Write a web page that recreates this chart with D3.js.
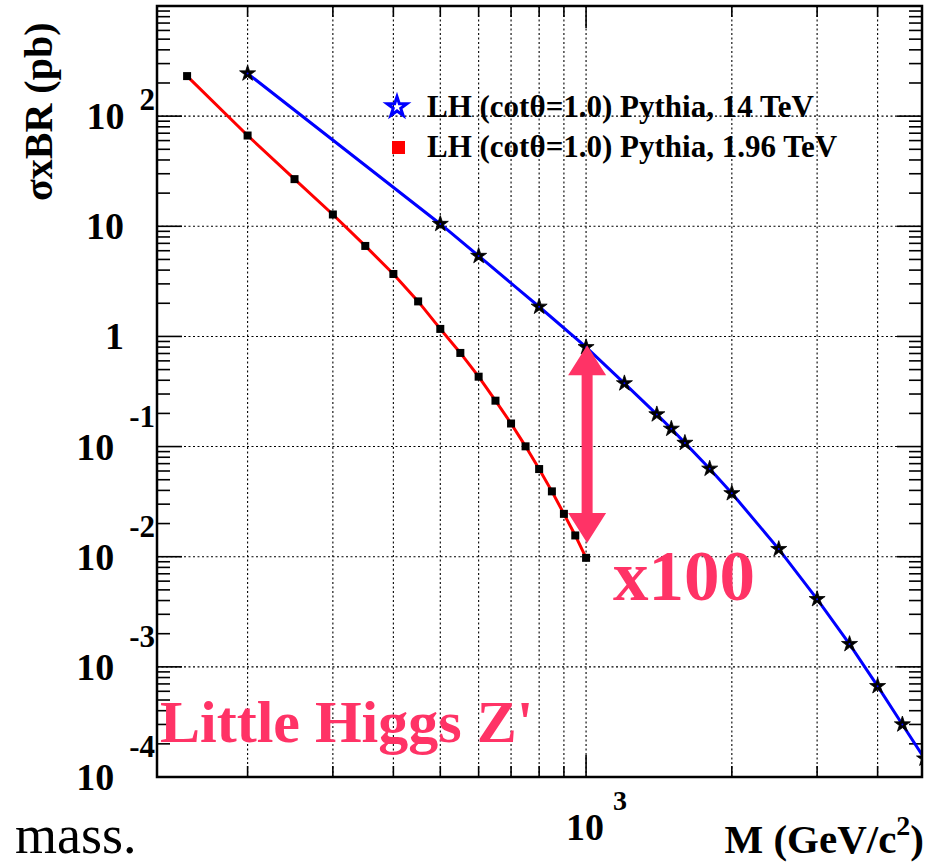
<!DOCTYPE html>
<html>
<head>
<meta charset="utf-8">
<script src="https://cdn.jsdelivr.net/npm/d3@7/dist/d3.min.js"></script>
<style>
  html, body { margin: 0; padding: 0; background: #fff; }
  svg { display: block; }
  svg text { font-family: "Liberation Serif", Tinos, "Times New Roman", Times, "DejaVu Serif", serif; }
</style>
</head>
<body>
<svg id="chart" width="927" height="865" font-family="Liberation Serif, Tinos, Times New Roman, DejaVu Serif, serif"></svg>
<script>
// Z' mass points (GeV/c^2) and sigma x BR (pb), Tevatron 1.96 TeV
const massTev = [150, 200, 250, 300, 350, 400, 450, 500, 550, 600, 650, 700, 750, 800, 850, 900, 950, 1000];
const xsecTev = [231, 66.7, 26.8, 12.8, 6.63, 3.69, 2.08, 1.17, 0.708, 0.431, 0.261, 0.162, 0.1005, 0.0625, 0.0392, 0.0245, 0.0156, 0.00977];

// LHC 14 TeV
const massLhc = [200, 500, 600, 800, 1000, 1200, 1400, 1500, 1600, 1800, 2000, 2500, 3000, 3500, 4000, 4500, 5000];
const xsecLhc = [244, 10.5, 5.38, 1.86, 0.798, 0.375, 0.196, 0.145, 0.108, 0.0629, 0.0377, 0.01173, 0.00412, 0.00161, 0.000668, 0.000300, 0.000147];

// axis settings
const xDomain = [130, 4940];
const yDomain = [1e-4, 1e3];
const xGridValues = [200, 300, 400, 500, 600, 700, 800, 900, 1000, 2000, 3000, 4000];
const yDecades = [-4, -3, -2, -1, 0, 1, 2, 3];

const legendLabels = ["LH (cot\u03b8=1.0) Pythia, 14 TeV", "LH (cot\u03b8=1.0) Pythia, 1.96 TeV"];
const ratioLabel = "x100";
const modelLabel = "Little Higgs Z'";
const arrowEnds = [0.83, 0.0133]; // at M = 1000
const arrowMass = 1005;

const pink = "#ff3366";
const frame = { left: 157, right: 922, top: 6, bottom: 777 };

const svg = d3.select("#chart");
const x = d3.scaleLog().domain(xDomain).range([frame.left, frame.right]);
const y = d3.scaleLog().domain(yDomain).range([frame.bottom, frame.top]);

// grid
const grid = svg.append("g").attr("stroke", "#000").attr("stroke-width", 1.1).attr("stroke-dasharray", "2,2.5");
xGridValues.forEach(v => grid.append("line")
  .attr("x1", x(v)).attr("x2", x(v)).attr("y1", frame.top).attr("y2", frame.bottom));
yDecades.filter(d => d > -4 && d < 3).forEach(d => grid.append("line")
  .attr("x1", frame.left).attr("x2", frame.right).attr("y1", y(Math.pow(10, d))).attr("y2", y(Math.pow(10, d))));

// ticks on all four sides
const ticks = svg.append("g").attr("stroke", "#000").attr("stroke-width", 1.6);
for (let d = -4; d < 3; d++) {
  for (let m = 1; m <= 9; m++) {
    const v = m * Math.pow(10, d);
    const yy = y(v);
    const len = m === 1 ? 25 : 13;
    ticks.append("line").attr("x1", frame.left).attr("x2", frame.left + len).attr("y1", yy).attr("y2", yy);
    ticks.append("line").attr("x1", frame.right).attr("x2", frame.right - len).attr("y1", yy).attr("y2", yy);
  }
}
xGridValues.forEach(v => {
  const len = v === 1000 ? 22 : 11;
  ticks.append("line").attr("x1", x(v)).attr("x2", x(v)).attr("y1", frame.bottom).attr("y2", frame.bottom - len);
  ticks.append("line").attr("x1", x(v)).attr("x2", x(v)).attr("y1", frame.top).attr("y2", frame.top + len);
});

// data
svg.append("clipPath").attr("id", "plotArea").append("rect")
  .attr("x", frame.left).attr("y", frame.top)
  .attr("width", frame.right - frame.left).attr("height", frame.bottom - frame.top);
const plot = svg.append("g").attr("clip-path", "url(#plotArea)");

const line = d3.line().x(d => x(d[0])).y(d => y(d[1]));
const tevPts = massTev.map((m, i) => [m, xsecTev[i]]);
const lhcPts = massLhc.map((m, i) => [m, xsecLhc[i]]);

plot.append("path").attr("d", line(tevPts)).attr("fill", "none").attr("stroke", "#ff0000").attr("stroke-width", 3);
plot.append("path").attr("d", line(lhcPts)).attr("fill", "none").attr("stroke", "#0000ff").attr("stroke-width", 3);

plot.selectAll("rect.sq").data(tevPts).enter().append("rect")
  .attr("x", d => x(d[0]) - 4).attr("y", d => y(d[1]) - 4)
  .attr("width", 8).attr("height", 8).attr("fill", "#000");

const star = d3.symbol().type(d3.symbolStar).size(80);
plot.selectAll("path.st").data(lhcPts).enter().append("path")
  .attr("d", star).attr("transform", d => `translate(${x(d[0])},${y(d[1])})`)
  .attr("fill", "#000").attr("stroke", "#000").attr("stroke-width", 0.8);
plot.selectAll("circle.dot").data(lhcPts).enter().append("circle")
  .attr("cx", d => x(d[0])).attr("cy", d => y(d[1])).attr("r", 1).attr("fill", "#0000ff");

// frame
svg.append("rect").attr("x", frame.left).attr("y", frame.top)
  .attr("width", frame.right - frame.left).attr("height", frame.bottom - frame.top)
  .attr("fill", "none").attr("stroke", "#000").attr("stroke-width", 2.5);

// y tick labels
const ylab = svg.append("g").attr("font-weight", "bold").attr("fill", "#000");
yDecades.filter(d => d < 3).forEach(d => {
  const yy = y(Math.pow(10, d));
  if (d === 0 || d === 1) {
    ylab.append("text").attr("x", 124).attr("y", yy + 13).attr("text-anchor", "end")
      .attr("font-size", 38).text(d === 0 ? "1" : "10");
  } else {
    const t = ylab.append("text").attr("x", 155).attr("y", yy + 13).attr("text-anchor", "end");
    t.append("tspan").attr("font-size", 38).text("10");
    t.append("tspan").attr("font-size", 31).attr("dx", 15).attr("dy", d > 0 ? -19 : -33).text(String(d));
  }
});

// x tick label
const xl = svg.append("text").attr("x", x(1000) - 20).attr("y", 840).attr("font-weight", "bold");
xl.append("tspan").attr("font-size", 38).text("10");
xl.append("tspan").attr("font-size", 28).attr("dx", 9).attr("dy", -30).text("3");

// axis titles
const xt = svg.append("text").attr("x", 924).attr("y", 853).attr("text-anchor", "end")
  .attr("font-weight", "bold").attr("font-size", 41);
xt.append("tspan").text("M (GeV/c");
xt.append("tspan").attr("font-size", 28).attr("dy", -18).text("2");
xt.append("tspan").attr("dy", 18).text(")");

svg.append("text").attr("transform", "translate(52,201) rotate(-90)")
  .attr("font-weight", "bold").attr("font-size", 40).text("\u03c3xBR (pb)");

svg.append("text").attr("x", 15).attr("y", 853).attr("font-size", 54).text("mass.");

// legend
const lg = svg.append("g");
lg.append("path").attr("d", d3.symbol().type(d3.symbolStar).size(120))
  .attr("transform", "translate(397,107)").attr("fill", "none").attr("stroke", "#0000ff").attr("stroke-width", 3);
lg.append("rect").attr("x", 392).attr("y", 141).attr("width", 13).attr("height", 13).attr("fill", "#ff0000");
legendLabels.forEach((s, i) => lg.append("text").attr("x", 427).attr("y", 117 + i * 40)
  .attr("font-weight", "bold").attr("font-size", 31).text(s));

// ratio arrow
const ax = x(arrowMass), yTop = y(arrowEnds[0]), yBot = y(arrowEnds[1]);
const hw = 19, hl = 30, sw = 5.5;
svg.append("path").attr("fill", pink).attr("d",
  `M${ax},${yTop} L${ax + hw},${yTop + hl} L${ax + sw},${yTop + hl} L${ax + sw},${yBot - hl}` +
  ` L${ax + hw},${yBot - hl} L${ax},${yBot} L${ax - hw},${yBot - hl} L${ax - sw},${yBot - hl}` +
  ` L${ax - sw},${yTop + hl} L${ax - hw},${yTop + hl} Z`);

svg.append("text").attr("x", 613).attr("y", 600).attr("fill", pink)
  .attr("font-weight", "bold").attr("font-size", 71).text(ratioLabel);
svg.append("text").attr("x", 160).attr("y", 742).attr("fill", pink)
  .attr("font-weight", "bold").attr("font-size", 60).text(modelLabel);
</script>
</body>
</html>
